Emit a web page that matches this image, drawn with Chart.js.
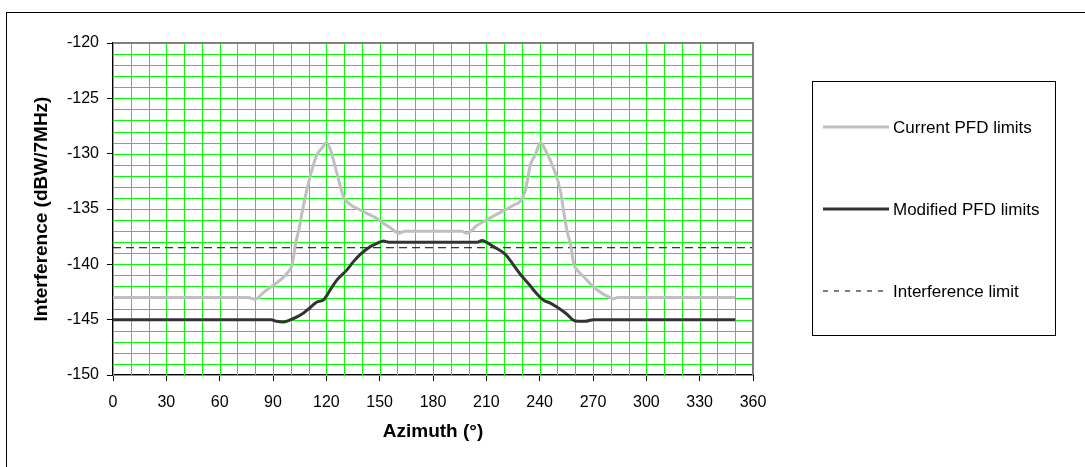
<!DOCTYPE html>
<html>
<head>
<meta charset="utf-8">
<script src="https://cdn.jsdelivr.net/npm/chart.js@4.4.0/dist/chart.umd.min.js"></script>
<style>
  html, body { margin: 0; padding: 0; background: #fff; }
  #wrap { position: relative; width: 1085px; height: 467px; overflow: hidden; }
  #frame { position: absolute; left: 6px; top: 12px; width: 1200px; height: 600px;
           border-left: 1px solid #000; border-top: 1px solid #000; }
  #chart { position: absolute; left: 0; top: 0; }
</style>
</head>
<body>
<div id="wrap">
  <div id="frame"></div>
  <canvas id="chart" width="1085" height="467"></canvas>
</div>
<script>
// Chart data
var seriesNames = ["Current PFD limits", "Modified PFD limits", "Interference limit"];

var currentAz  = [0, 76, 80, 85, 91, 95, 98, 101, 102.5, 104.5, 106.5, 109, 112, 114.7, 117.5, 120,
                  122.2, 126, 129.7, 133.5, 138, 142.8, 147.8, 150.4, 156, 161, 164,
                  196, 199, 204.7, 212.2, 218, 221.6, 226, 229.1, 232, 234.8, 237.6, 240.5,
                  243, 248, 251.6, 253.5, 255.3, 257.5, 259.1, 261, 264.7, 268.7, 272.2, 277, 281.6, 284, 350];
var currentPfd = [-143, -143, -143.15, -142.5, -141.8, -141.3, -140.8, -139.9, -138.3, -136.9, -135.2, -133.3, -131.4, -130.1, -129.5, -129,
                  -129.6, -131.8, -133.9, -134.6, -135.0, -135.4, -135.8, -136.1, -136.7, -137.2, -137,
                  -137, -137.2, -136.5, -135.8, -135.3, -135, -134.6, -134.3, -133.3, -131, -130.1, -129,
                  -129.6, -131.4, -133.3, -135.2, -136.9, -138.3, -139.9, -140.5, -141.1, -141.8, -142.3, -142.8, -143.1, -143, -143];

var modifiedAz  = [0, 89, 92, 96, 100, 104, 107.2, 111, 114.7, 118.5, 122.2, 126, 131.6, 135, 139.1, 144.7, 148.5, 152.2, 155,
                   205, 207.5, 210, 214, 220.7, 225, 229.1, 234, 238, 242.2, 246, 249.7, 255.3, 258.5, 261.9, 265.5, 270.3, 350];
var modifiedPfd = [-145, -145, -145.15, -145.2, -145, -144.7, -144.4, -143.9, -143.4, -143.2, -142.3, -141.4, -140.5, -139.8, -139.1, -138.4, -138.1, -137.9, -138,
                   -138, -137.85, -138, -138.4, -139.1, -140, -140.9, -141.8, -142.6, -143.25, -143.5, -143.85, -144.5, -145, -145.15, -145.15, -145, -145];

var limitAz  = [0, 360];
var limitVal = [-138.5, -138.5];

// Tick labels
var azimuthLabels = [0, 30, 60, 90, 120, 150, 180, 210, 240, 270, 300, 330, 360];
var levelLabels   = [-150, -145, -140, -135, -130, -125, -120];

function pairs(xs, ys) {
    return xs.map(function (x, i) { return { x: x, y: ys[i] }; });
}

Chart.defaults.font.family = "'Liberation Sans', Arial, sans-serif";
Chart.defaults.color = "#000";

// Green grid drawn from the scales' own ticks, under the lines
var greenGrid = {
    id: "greenGrid",
    beforeDatasetsDraw: function (chart) {
        var c = chart.ctx, a = chart.chartArea;
        var sx = chart.scales.x, sy = chart.scales.y;
        c.save();
        c.strokeStyle = "#00ff00";
        c.lineWidth = 1;
        c.beginPath();
        sx.ticks.forEach(function (t) {
            var px = Math.round(sx.getPixelForValue(t.value)) + 0.5;
            c.moveTo(px, a.top);
            c.lineTo(px, a.bottom);
        });
        sy.ticks.forEach(function (t) {
            var py = Math.round(sy.getPixelForValue(t.value)) + 0.5;
            c.moveTo(a.left, py);
            c.lineTo(a.right, py);
        });
        c.stroke();
        c.restore();
    }
};

// Gray top/right frame of the plot area and the boxed legend on the right
var frameAndLegend = {
    id: "frameAndLegend",
    afterDraw: function (chart) {
        var c = chart.ctx, a = chart.chartArea;
        c.save();
        c.strokeStyle = "#808080";
        c.lineWidth = 2;
        c.beginPath();
        c.moveTo(a.left, a.top);
        c.lineTo(a.right, a.top);
        c.lineTo(a.right, a.bottom);
        c.stroke();

        // legend box
        c.strokeStyle = "#000";
        c.lineWidth = 1;
        c.strokeRect(812.5, 81.5, 243, 254);
        var rows = [127, 209, 291];
        c.font = "17px 'Liberation Sans', Arial, sans-serif";
        c.textBaseline = "middle";
        c.fillStyle = "#000";
        chart.data.datasets.forEach(function (ds, i) {
            c.strokeStyle = ds.borderColor;
            c.lineWidth = ds.borderWidth;
            c.setLineDash(ds.borderDash ? [5, 6] : []);
            c.beginPath();
            c.moveTo(823, rows[i]);
            c.lineTo(889, rows[i]);
            c.stroke();
            c.setLineDash([]);
            c.fillText(ds.label, 893, rows[i] + 1);
        });
        c.restore();
    }
};

var ctx = document.getElementById("chart");

var config = {
    type: "line",
    data: {
        datasets: [{
            label: seriesNames[0],
            data: pairs(currentAz, currentPfd),
            borderColor: "#c0c0c0",
            borderWidth: 3,
            pointRadius: 0,
            cubicInterpolationMode: "monotone"
        }, {
            label: seriesNames[1],
            data: pairs(modifiedAz, modifiedPfd),
            borderColor: "#333333",
            borderWidth: 3,
            pointRadius: 0,
            cubicInterpolationMode: "monotone"
        }, {
            label: seriesNames[2],
            data: pairs(limitAz, limitVal),
            borderColor: "#000000",
            borderWidth: 1,
            borderDash: [8, 5],
            pointRadius: 0
        }]
    },
    options: {
        responsive: false,
        animation: false,
        layout: { padding: { left: 0, top: 43, right: 332, bottom: 0 } },
        plugins: { legend: { display: false }, tooltip: { enabled: false } },
        scales: {
            x: {
                type: "linear",
                min: 0,
                max: 360,
                afterFit: function (s) { s.height = 92; },
                border: { color: "#000", width: 2 },
                grid: {
                    drawOnChartArea: false,
                    tickLength: 6,
                    tickColor: function (c) { return azimuthLabels.indexOf(c.tick.value) >= 0 ? "#000" : "rgba(0,0,0,0)"; }
                },
                ticks: {
                    stepSize: 10,
                    autoSkip: false,
                    maxRotation: 0,
                    minRotation: 0,
                    padding: 12,
                    font: { size: 16 },
                    callback: function (v) { return azimuthLabels.indexOf(v) >= 0 ? String(v) : ""; }
                },
                title: {
                    display: true,
                    text: "Azimuth (°)",
                    font: { size: 19, weight: "bold", lineHeight: 1.2 },
                    padding: { top: 0, bottom: 24 }
                }
            },
            y: {
                min: -150,
                max: -120,
                afterFit: function (s) { s.width = 113; },
                border: { color: "#000", width: 2 },
                grid: {
                    drawOnChartArea: false,
                    tickLength: 6,
                    tickColor: function (c) { return levelLabels.indexOf(c.tick.value) >= 0 ? "#000" : "rgba(0,0,0,0)"; }
                },
                ticks: {
                    stepSize: 1,
                    autoSkip: false,
                    padding: 8,
                    font: { size: 16 },
                    callback: function (v) { return levelLabels.indexOf(v) >= 0 ? String(v) : ""; }
                },
                title: {
                    display: true,
                    text: "Interference (dBW/7MHz)",
                    font: { size: 19, weight: "bold", lineHeight: 1.2 },
                    padding: { top: 30, bottom: 0 }
                }
            }
        }
    },
    plugins: [greenGrid, frameAndLegend]
};

var chart = new Chart(ctx, config);
</script>
</body>
</html>
